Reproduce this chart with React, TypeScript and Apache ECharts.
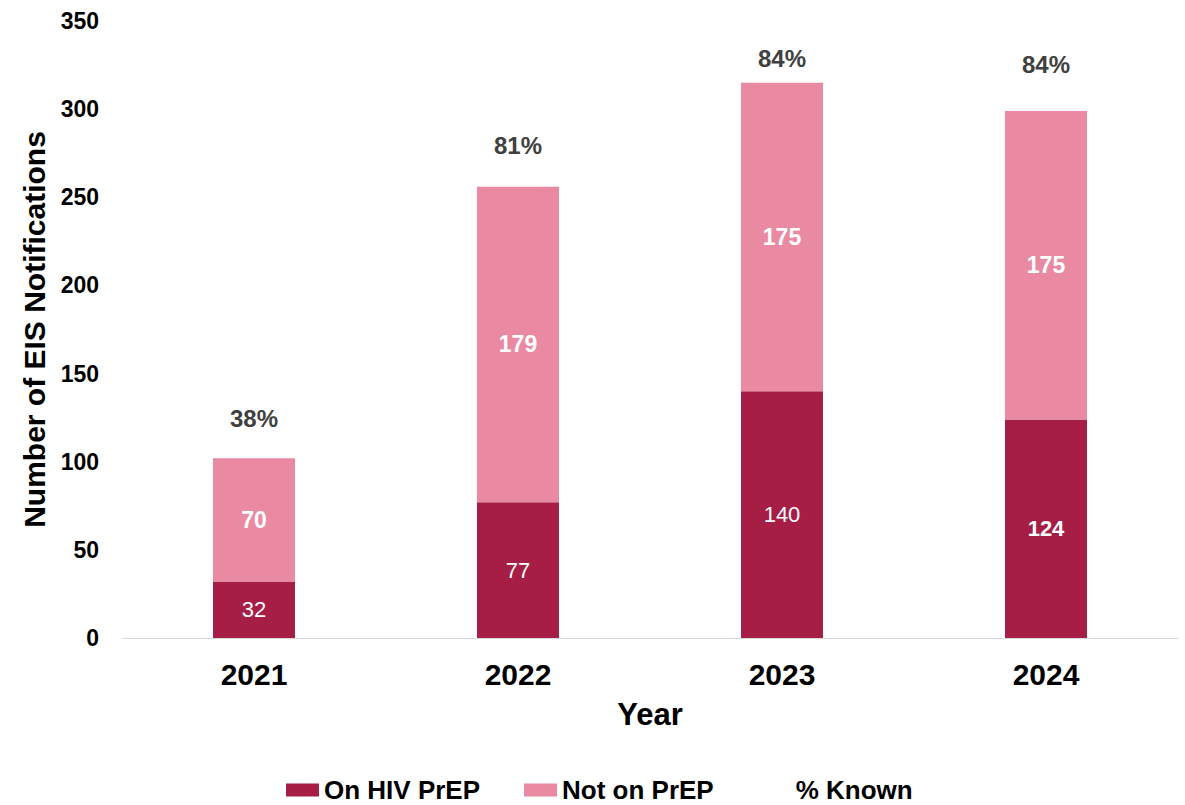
import React, { useEffect, useRef } from "react";
import * as echarts from "echarts";

const years = ["2021", "2022", "2023", "2024"];
const onHivPrep = [32, 77, 140, 124];
const notOnPrep = [70, 179, 175, 175];
const pctKnown = ["38%", "81%", "84%", "84%"];
const onPrepBold = [false, false, false, true];
const pctLabelGap = [27, 29, 12, 34];
const yTicks = { min: 0, max: 350, interval: 50 };

const DARK = "#A61E46";
const LIGHT = "#EA8AA2";
const FONT = "Liberation Sans, Arial, sans-serif";

export default function App() {
  const ref = useRef<HTMLDivElement>(null);
  useEffect(() => {
    if (!ref.current) return;
    document.body.style.margin = "0";
    const chart = echarts.init(ref.current, null, { renderer: "svg" });
    const totals = onHivPrep.map((v, i) => v + notOnPrep[i]);
    chart.setOption({
      animation: false,
      textStyle: { fontFamily: FONT },
      grid: { left: 122, right: 7, top: 21, bottom: 167, containLabel: false },
      legend: {
        left: 286,
        top: 777,
        padding: 0,
        icon: "rect",
        itemWidth: 33,
        itemHeight: 13,
        itemGap: 44,
        textStyle: { fontFamily: FONT, fontSize: 26, lineHeight: 26, fontWeight: "bold", color: "#000" },
        data: ["On HIV PrEP", "Not on PrEP", "% Known"],
      },
      xAxis: {
        type: "category",
        data: years,
        name: "Year",
        nameLocation: "middle",
        nameGap: 61,
        nameTextStyle: { fontFamily: FONT, fontSize: 31, fontWeight: "bold", color: "#000" },
        axisLine: { show: true, lineStyle: { color: "#D9D9D9", width: 1 } },
        axisTick: { show: false },
        axisLabel: { fontFamily: FONT, fontSize: 30, fontWeight: "bold", color: "#000", margin: 21 },
      },
      yAxis: {
        type: "value",
        min: yTicks.min,
        max: yTicks.max,
        interval: yTicks.interval,
        name: "Number of EIS Notifications",
        nameLocation: "middle",
        nameGap: 70,
        nameTextStyle: { fontFamily: FONT, fontSize: 30, fontWeight: "bold", color: "#000" },
        axisLine: { show: false },
        axisTick: { show: false },
        splitLine: { show: false },
        axisLabel: { fontFamily: FONT, fontSize: 23, fontWeight: "bold", color: "#000", margin: 23 },
      },
      series: [
        {
          name: "On HIV PrEP",
          type: "bar",
          stack: "total",
          barWidth: 82,
          itemStyle: { color: DARK },
          label: {
            show: true,
            position: "inside",
            color: "#fff",
            fontFamily: FONT,
            fontSize: 22,
          },
          data: onHivPrep.map((v, i) => ({
            value: v,
            label: { fontWeight: onPrepBold[i] ? "bold" : "normal" },
          })),
        },
        {
          name: "Not on PrEP",
          type: "bar",
          stack: "total",
          barWidth: 82,
          itemStyle: { color: LIGHT },
          label: {
            show: true,
            position: "inside",
            color: "#fff",
            fontFamily: FONT,
            fontSize: 23,
            fontWeight: "bold",
          },
          data: notOnPrep,
        },
        {
          name: "% Known",
          type: "line",
          symbol: "circle",
          symbolSize: 1,
          showSymbol: true,
          itemStyle: { color: "rgba(0,0,0,0)" },
          lineStyle: { opacity: 0 },
          label: {
            show: true,
            position: "top",
            color: "#404040",
            fontFamily: FONT,
            fontSize: 24,
            fontWeight: "bold",
            formatter: (p: any) => pctKnown[p.dataIndex],
          },
          data: totals.map((v, i) => ({ value: v, label: { distance: pctLabelGap[i] } })),
        },
      ],
    });
    return () => chart.dispose();
  }, []);
  return <div ref={ref} style={{ width: 1185, height: 805 }} />;
}
